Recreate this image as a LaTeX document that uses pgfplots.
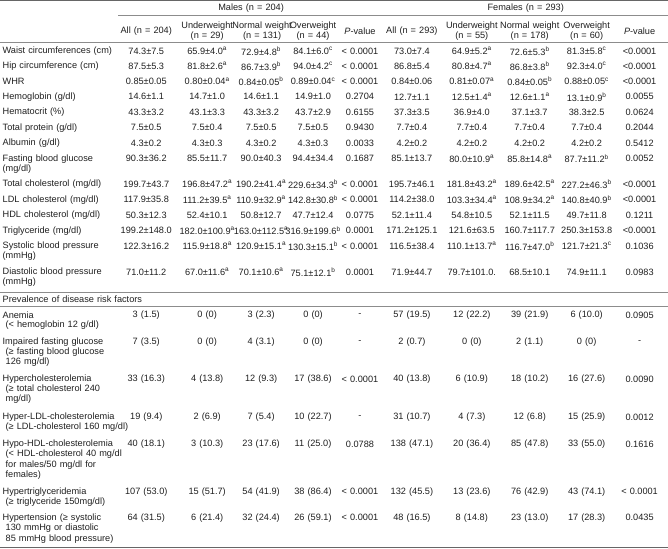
\documentclass[border=0pt]{standalone}
\usepackage{fontspec}
\setmainfont[WordSpace=1.2]{Liberation Sans}
\usepackage{pgfplots}
\pgfplotsset{compat=1.18}
\newcommand{\sa}{\textsuperscript{a}}
\newcommand{\sbb}{\textsuperscript{b}}
\newcommand{\scc}{\textsuperscript{c}}
\newcommand{\PM}{±}
\newcommand{\Lb}[2]{\node[anchor=west] at (axis cs:2,#1) {#2};}
\newcommand{\Li}[2]{\node[anchor=west] at (axis cs:5,#1) {#2};}
\newcommand{\M}[6]{%
 \node at (axis cs:146,#1) {#2};
 \node at (axis cs:207,#1) {#3};
 \node at (axis cs:261,#1) {#4};
 \node at (axis cs:313,#1) {#5};
 \node at (axis cs:360,#1) {#6};}
\newcommand{\F}[6]{%
 \node at (axis cs:412,#1) {#2};
 \node at (axis cs:472,#1) {#3};
 \node at (axis cs:530,#1) {#4};
 \node at (axis cs:587,#1) {#5};
 \node at (axis cs:640,#1) {#6};}
\begin{document}
\fontsize{9.2}{11}\selectfont
\begin{tikzpicture}[font=\fontsize{9.2}{11}\selectfont, every node/.style={inner sep=0pt, text=black!88}]
\begin{axis}[hide axis, scale only axis, width=668pt, height=552pt,
  xmin=0, xmax=668, ymin=0, ymax=552, y dir=reverse, clip=false]
% rules
\draw[black!60, line width=0.9pt] (axis cs:0,1) -- (axis cs:668,1);
\draw[black!45, line width=0.6pt] (axis cs:118,16) -- (axis cs:668,16);
\draw[black!45, line width=0.6pt] (axis cs:0,43) -- (axis cs:668,43);
\draw[black!45, line width=0.6pt] (axis cs:0,293) -- (axis cs:668,293);
\draw[black!45, line width=0.6pt] (axis cs:0,307.5) -- (axis cs:668,307.5);
\draw[black!60, line width=0.9pt] (axis cs:0,549) -- (axis cs:668,549);
% group headers
\node at (axis cs:251,8.5) {Males (n = 204)};
\node at (axis cs:526,8.5) {Females (n = 293)};
% column headers
\node at (axis cs:146,32) {All (n = 204)};
\node at (axis cs:207,27) {Underweight}; \node at (axis cs:207,37) {(n = 29)};
\node at (axis cs:262,27) {Normal weight}; \node at (axis cs:262,37) {(n = 131)};
\node at (axis cs:313,27) {Overweight}; \node at (axis cs:313,37) {(n = 44)};
\node at (axis cs:360,32) {\textit{P}-value};
\node at (axis cs:412,32) {All (n = 293)};
\node at (axis cs:472,27) {Underweight}; \node at (axis cs:472,37) {(n = 55)};
\node at (axis cs:530,27) {Normal weight}; \node at (axis cs:530,37) {(n = 178)};
\node at (axis cs:587,27) {Overweight}; \node at (axis cs:587,37) {(n = 60)};
\node at (axis cs:640,32) {\textit{P}-value};
% continuous variables
\Lb{51.5}{Waist circumferences (cm)}
\M{51.5}{74.3\PM7.5}{65.9\PM4.0\sa}{72.9\PM4.8\sbb}{84.1\PM6.0\scc}{< 0.0001}
\F{51.5}{73.0\PM7.4}{64.9\PM5.2\sa}{72.6\PM5.3\sbb}{81.3\PM5.8\scc}{<0.0001}
\Lb{66.5}{Hip circumference (cm)}
\M{66.5}{87.5\PM5.3}{81.8\PM2.6\sa}{86.7\PM3.9\sbb}{94.0\PM4.2\scc}{< 0.0001}
\F{66.5}{86.8\PM5.4}{80.8\PM4.7\sa}{86.8\PM3.8\sbb}{92.3\PM4.0\scc}{<0.0001}
\Lb{82}{WHR}
\M{82}{0.85\PM0.05}{0.80\PM0.04\sa}{0.84\PM0.05\sbb}{0.89\PM0.04\scc}{< 0.0001}
\F{82}{0.84\PM0.06}{0.81\PM0.07\sa}{0.84\PM0.05\sbb}{0.88\PM0.05\scc}{<0.0001}
\Lb{97.5}{Hemoglobin (g/dl)}
\M{97.5}{14.6\PM1.1}{14.7\PM1.0}{14.6\PM1.1}{14.9\PM1.0}{0.2704}
\F{97.5}{12.7\PM1.1}{12.5\PM1.4\sa}{12.6\PM1.1\sa}{13.1\PM0.9\sbb}{0.0055}
\Lb{113}{Hematocrit (\%)}
\M{113}{43.3\PM3.2}{43.1\PM3.3}{43.3\PM3.2}{43.7\PM2.9}{0.6155}
\F{113}{37.3\PM3.5}{36.9\PM4.0}{37.1\PM3.7}{38.3\PM2.5}{0.0624}
\Lb{128.5}{Total protein (g/dl)}
\M{128.5}{7.5\PM0.5}{7.5\PM0.4}{7.5\PM0.5}{7.5\PM0.5}{0.9430}
\F{128.5}{7.7\PM0.4}{7.7\PM0.4}{7.7\PM0.4}{7.7\PM0.4}{0.2044}
\Lb{144}{Albumin (g/dl)}
\M{144}{4.3\PM0.2}{4.3\PM0.3}{4.3\PM0.2}{4.3\PM0.3}{0.0033}
\F{144}{4.2\PM0.2}{4.2\PM0.2}{4.2\PM0.2}{4.2\PM0.2}{0.5412}
\Lb{159.5}{Fasting blood glucose}
\Lb{169.5}{(mg/dl)}
\M{159.5}{90.3\PM36.2}{85.5\PM11.7}{90.0\PM40.3}{94.4\PM34.4}{0.1687}
\F{159.5}{85.1\PM13.7}{80.0\PM10.9\sa}{85.8\PM14.8\sa}{87.7\PM11.2\sbb}{0.0052}
\Lb{185}{Total cholesterol (mg/dl)}
\M{185}{199.7\PM43.7}{196.8\PM47.2\sa}{190.2\PM41.4\sa}{229.6\PM34.3\sbb}{< 0.0001}
\F{185}{195.7\PM46.1}{181.8\PM43.2\sa}{189.6\PM42.5\sa}{227.2\PM46.3\sbb}{<0.0001}
\Lb{200.5}{LDL cholesterol (mg/dl)}
\M{200.5}{117.9\PM35.8}{111.2\PM39.5\sa}{110.9\PM32.9\sa}{142.8\PM30.8\sbb}{< 0.0001}
\F{200.5}{114.2\PM38.0}{103.3\PM34.4\sa}{108.9\PM34.2\sa}{140.8\PM40.9\sbb}{<0.0001}
\Lb{216}{HDL cholesterol (mg/dl)}
\M{216}{50.3\PM12.3}{52.4\PM10.1}{50.8\PM12.7}{47.7\PM12.4}{0.0775}
\F{216}{52.1\PM11.4}{54.8\PM10.5}{52.1\PM11.5}{49.7\PM11.8}{0.1211}
\Lb{231.5}{Triglyceride (mg/dl)}
\M{231.5}{199.2\PM148.0}{182.0\PM100.9\sa}{163.0\PM112.5\sa}{316.9\PM199.6\sbb}{0.0001}
\F{231.5}{171.2\PM125.1}{121.6\PM63.5}{160.7\PM117.7}{250.3\PM153.8}{<0.0001}
\Lb{247}{Systolic blood pressure}
\Lb{257}{(mmHg)}
\M{247}{122.3\PM16.2}{115.9\PM18.8\sa}{120.9\PM15.1\sa}{130.3\PM15.1\sbb}{< 0.0001}
\F{247}{116.5\PM38.4}{110.1\PM13.7\sa}{116.7\PM47.0\sbb}{121.7\PM21.3\scc}{0.1036}
\Lb{273}{Diastolic blood pressure}
\Lb{283.5}{(mmHg)}
\M{273}{71.0\PM11.2}{67.0\PM11.6\sa}{70.1\PM10.6\sa}{75.1\PM12.1\sbb}{0.0001}
\F{273}{71.9\PM44.7}{79.7\PM101.0.}{68.5\PM10.1}{74.9\PM11.1}{0.0983}
% prevalence
\Lb{300.5}{Prevalence of disease risk factors}
\Lb{316}{Anemia}
\Li{326.5}{(< hemoglobin 12 g/dl)}
\M{316}{3 (1.5)}{0 (0)}{3 (2.3)}{0 (0)}{-}
\F{316}{57 (19.5)}{12 (22.2)}{39 (21.9)}{6 (10.0)}{0.0905}
\Lb{343}{Impaired fasting glucose}
\Li{353}{(≥ fasting blood glucose}
\Li{363}{126 mg/dl)}
\M{343}{7 (3.5)}{0 (0)}{4 (3.1)}{0 (0)}{-}
\F{343}{2 (0.7)}{0 (0)}{2 (1.1)}{0 (0)}{-}
\Lb{380}{Hypercholesterolemia}
\Li{390}{(≥ total cholesterol 240}
\Li{400.5}{mg/dl)}
\M{380}{33 (16.3)}{4 (13.8)}{12 (9.3)}{17 (38.6)}{< 0.0001}
\F{380}{40 (13.8)}{6 (10.9)}{18 (10.2)}{16 (27.6)}{0.0090}
\Lb{418}{Hyper-LDL-cholesterolemia}
\Li{428}{(≥ LDL-cholesterol 160 mg/dl)}
\M{418}{19 (9.4)}{2 (6.9)}{7 (5.4)}{10 (22.7)}{-}
\F{418}{31 (10.7)}{4 (7.3)}{12 (6.8)}{15 (25.9)}{0.0012}
\Lb{445}{Hypo-HDL-cholesterolemia}
\Li{455}{(< HDL-cholesterol 40 mg/dl}
\Li{466}{for males/50 mg/dl for}
\Li{476.5}{females)}
\M{445}{40 (18.1)}{3 (10.3)}{23 (17.6)}{11 (25.0)}{0.0788}
\F{445}{138 (47.1)}{20 (36.4)}{85 (47.8)}{33 (55.0)}{0.1616}
\Lb{493}{Hypertriglyceridemia}
\Li{503}{(≥ triglyceride 150mg/dl)}
\M{493}{107 (53.0)}{15 (51.7)}{54 (41.9)}{38 (86.4)}{< 0.0001}
\F{493}{132 (45.5)}{13 (23.6)}{76 (42.9)}{43 (74.1)}{< 0.0001}
\Lb{519}{Hypertension (≥ systolic}
\Li{529.5}{130 mmHg or diastolic}
\Li{540}{85 mmHg blood pressure)}
\M{519}{64 (31.5)}{6 (21.4)}{32 (24.4)}{26 (59.1)}{< 0.0001}
\F{519}{48 (16.5)}{8 (14.8)}{23 (13.0)}{17 (28.3)}{0.0435}
\end{axis}
\end{tikzpicture}
\end{document}
